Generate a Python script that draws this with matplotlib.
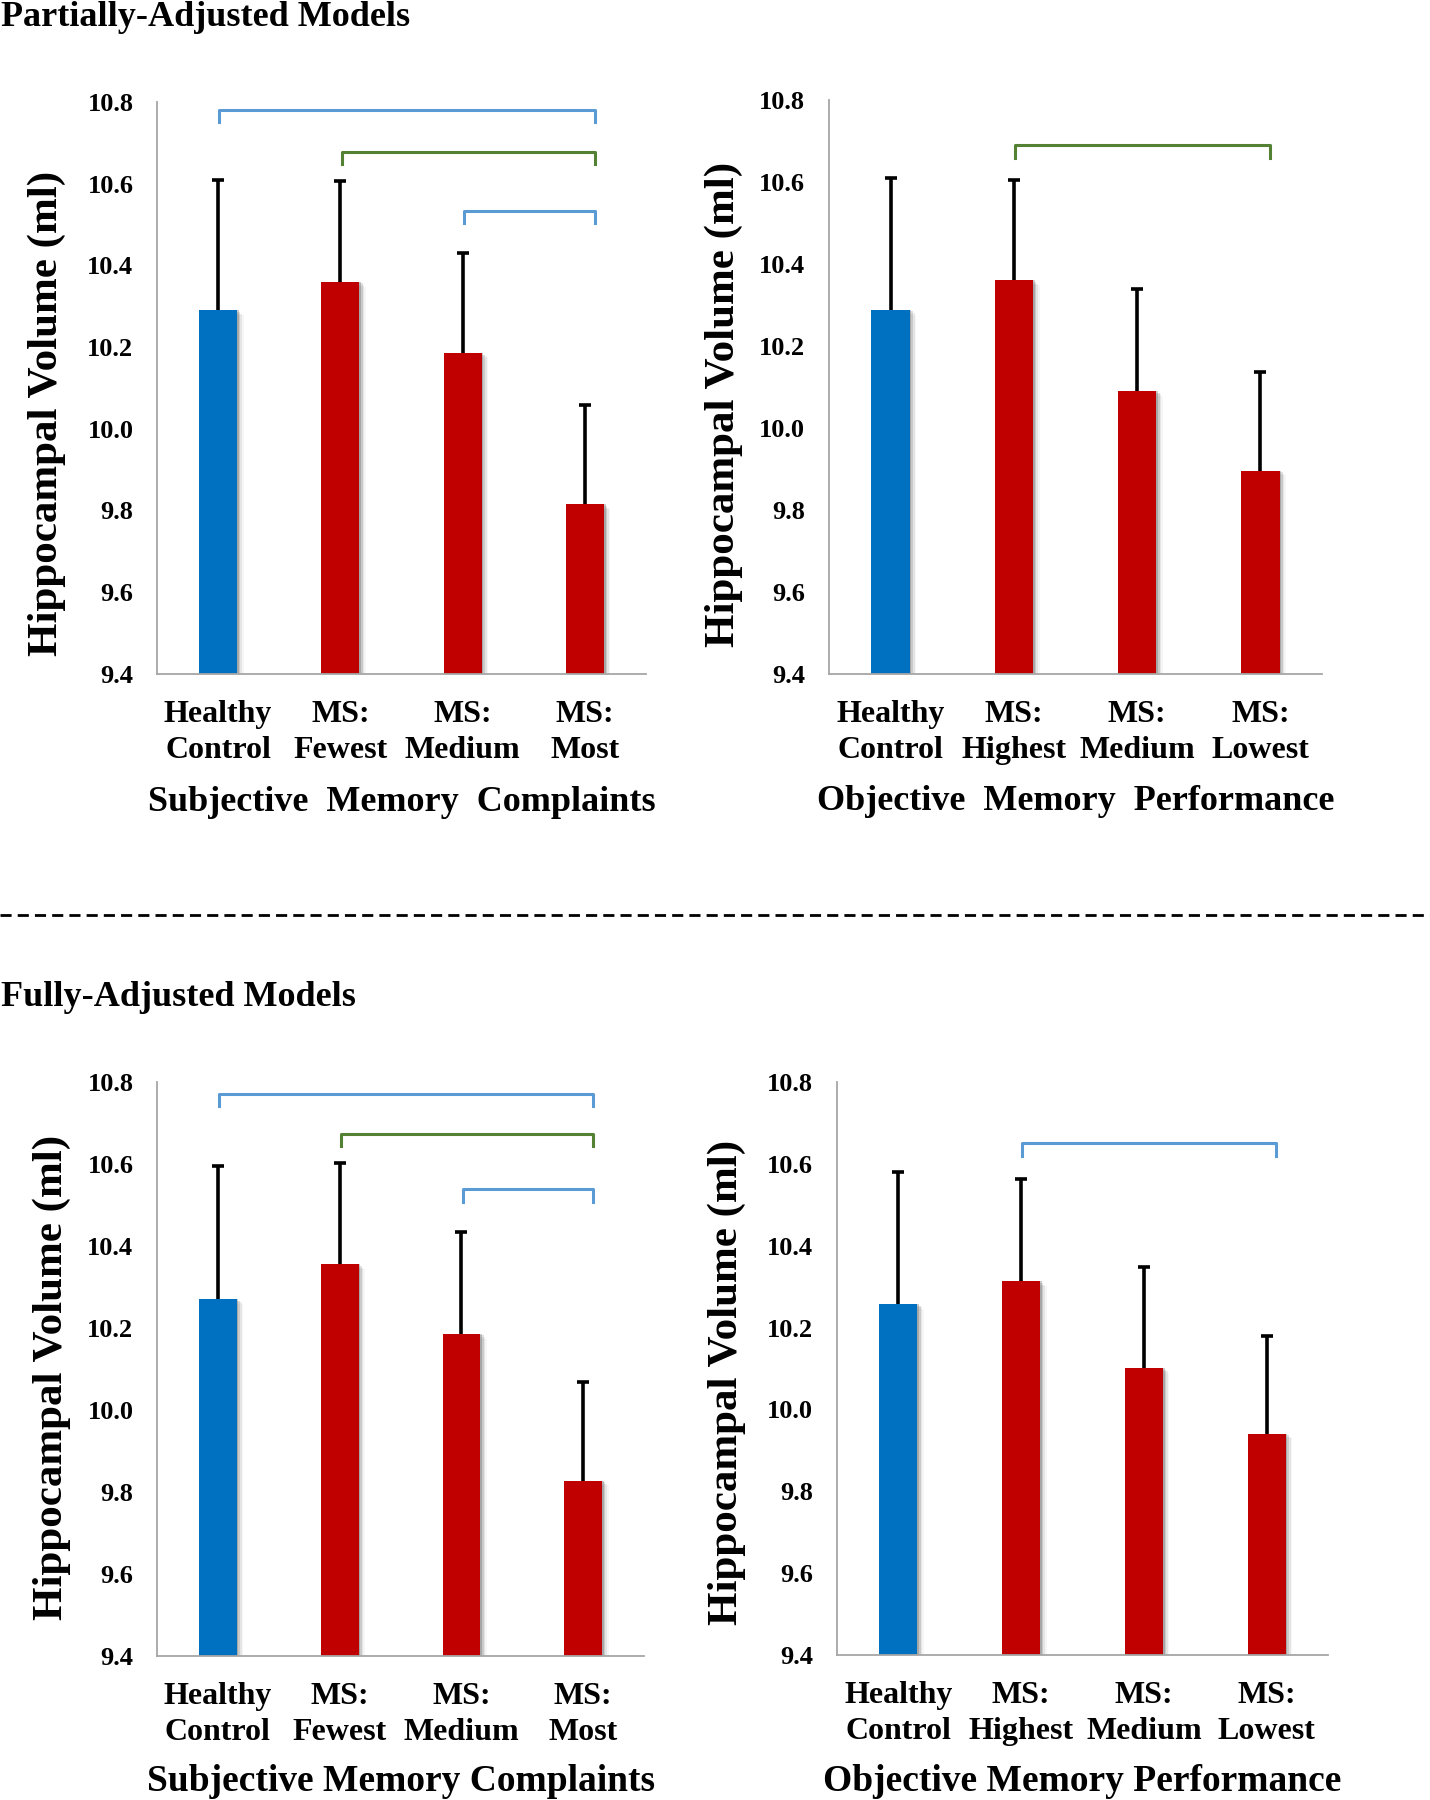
import numpy as np
import matplotlib
matplotlib.use("Agg")
import matplotlib.pyplot as plt
from matplotlib.lines import Line2D

plt.rcParams['font.family'] = ['Liberation Serif', 'DejaVu Serif']

# data
subj_labels = ["Healthy\nControl", "MS:\nFewest", "MS:\nMedium", "MS:\nMost"]
obj_labels = ["Healthy\nControl", "MS:\nHighest", "MS:\nMedium", "MS:\nLowest"]

partial_subj = [10.29, 10.36, 10.185, 9.815]
partial_subj_err = [10.61, 10.607, 10.431, 10.057]
partial_obj = [10.288, 10.36, 10.09, 9.896]
partial_obj_err = [10.609, 10.605, 10.338, 10.137]

full_subj = [10.271, 10.355, 10.186, 9.828]
full_subj_err = [10.594, 10.602, 10.435, 10.068]
full_obj = [10.257, 10.313, 10.101, 9.941]
full_obj_err = [10.581, 10.562, 10.348, 10.18]

# brackets: (from, to, level, colour)
partial_subj_br = [(0, 3, 10.78, "blue"), (1, 3, 10.677, "green"), (2, 3, 10.534, "blue")]
partial_obj_br = [(1, 3, 10.689, "green")]
full_subj_br = [(0, 3, 10.771, "blue"), (1, 3, 10.673, "green"), (2, 3, 10.538, "blue")]
full_obj_br = [(1, 3, 10.65, "blue")]

yticks = [9.4, 9.6, 9.8, 10.0, 10.2, 10.4, 10.6, 10.8]

BLUE = "#0070C0"
RED = "#C00000"
br_colors = {"blue": "#5B9BD5", "green": "#548235"}


def panel(ax, labels, vals, errs, brackets, xlabel, xl_size, ylab_pos, xlab_y):
    x = np.arange(len(vals))
    cols = [BLUE] + [RED] * (len(vals) - 1)
    # soft shadow on the right of each bar
    for k, a in enumerate([0.30, 0.18, 0.10, 0.05]):
        ax.bar(x + 0.014 + 0.013 * k, np.array(vals) - 9.4 - 0.004 * k, 0.31, bottom=9.4,
               color="#555555", alpha=a, zorder=1, linewidth=0)
    ax.bar(x, np.array(vals) - 9.4, 0.31, bottom=9.4, color=cols, zorder=2)
    # error bars: only upward, cap on top
    ax.vlines(x, vals, errs, color="black", lw=2.6, zorder=3)
    ax.plot(x, errs, ls="none", marker="_", ms=9, mew=2.6, color="black", zorder=3)
    for a, b, lev, c in brackets:
        x0, x1 = a + 0.01, b + 0.08
        ax.plot([x0, x0, x1, x1], [lev - 0.03, lev, lev, lev - 0.03],
                color=br_colors[c], lw=2.2, solid_joinstyle="round", zorder=4,
                clip_on=False)
    ax.set_xlim(-0.5, 3.5)
    ax.set_ylim(9.4, 10.8)
    ax.set_yticks(yticks)
    ax.set_yticklabels(["%.1f" % v for v in yticks], fontsize=19, fontweight="bold")
    ax.set_xticks(x)
    ax.set_xticklabels(labels, fontsize=23, fontweight="bold", linespacing=1.3)
    ax.tick_params(axis="y", length=0, pad=17)
    ax.tick_params(axis="x", length=0, pad=19)
    for s in ["top", "right"]:
        ax.spines[s].set_visible(False)
    for s in ["left", "bottom"]:
        ax.spines[s].set_color("#A6A6A6")
        ax.spines[s].set_linewidth(1.3)
    ax.set_ylabel("Hippocampal Volume (ml)", fontsize=31, fontweight="bold")
    ax.yaxis.set_label_coords(*ylab_pos)
    ax.text(0.5, xlab_y, xlabel, transform=ax.transAxes, ha="center", va="center",
            fontsize=xl_size, fontweight="bold")


fig = plt.figure(figsize=(14.3, 18), dpi=100)

ax1 = fig.add_axes([0.1098, 0.6256, 0.342, 0.3178])
ax2 = fig.add_axes([0.5797, 0.6256, 0.3448, 0.3189])
ax3 = fig.add_axes([0.1098, 0.0800, 0.3406, 0.3189])
ax4 = fig.add_axes([0.5853, 0.0806, 0.3434, 0.3183])

panel(ax1, subj_labels, partial_subj, partial_subj_err, partial_subj_br,
      "Subjective  Memory  Complaints", 26, (-0.186, 0.456), -0.225)
panel(ax2, obj_labels, partial_obj, partial_obj_err, partial_obj_br,
      "Objective  Memory  Performance", 26, (-0.174, 0.47), -0.223)
panel(ax3, subj_labels, full_subj, full_subj_err, full_subj_br,
      "Subjective Memory Complaints", 27, (-0.177, 0.486), -0.219)
panel(ax4, obj_labels, full_obj, full_obj_err, full_obj_br,
      "Objective Memory Performance", 27, (-0.185, 0.475), -0.221)

fig.text(0.001, 1 - 17 / 1800, "Partially-Adjusted Models", ha="left", va="center",
         fontsize=26, fontweight="bold")
fig.text(0.001, 1 - 997 / 1800, "Fully-Adjusted Models", ha="left", va="center",
         fontsize=26, fontweight="bold")

fig.add_artist(Line2D([0, 1], [1 - 915 / 1800, 1 - 915 / 1800], transform=fig.transFigure,
                      color="black", lw=2, linestyle=(0, (4, 2.2))))

fig.savefig("out.png", dpi=100)
